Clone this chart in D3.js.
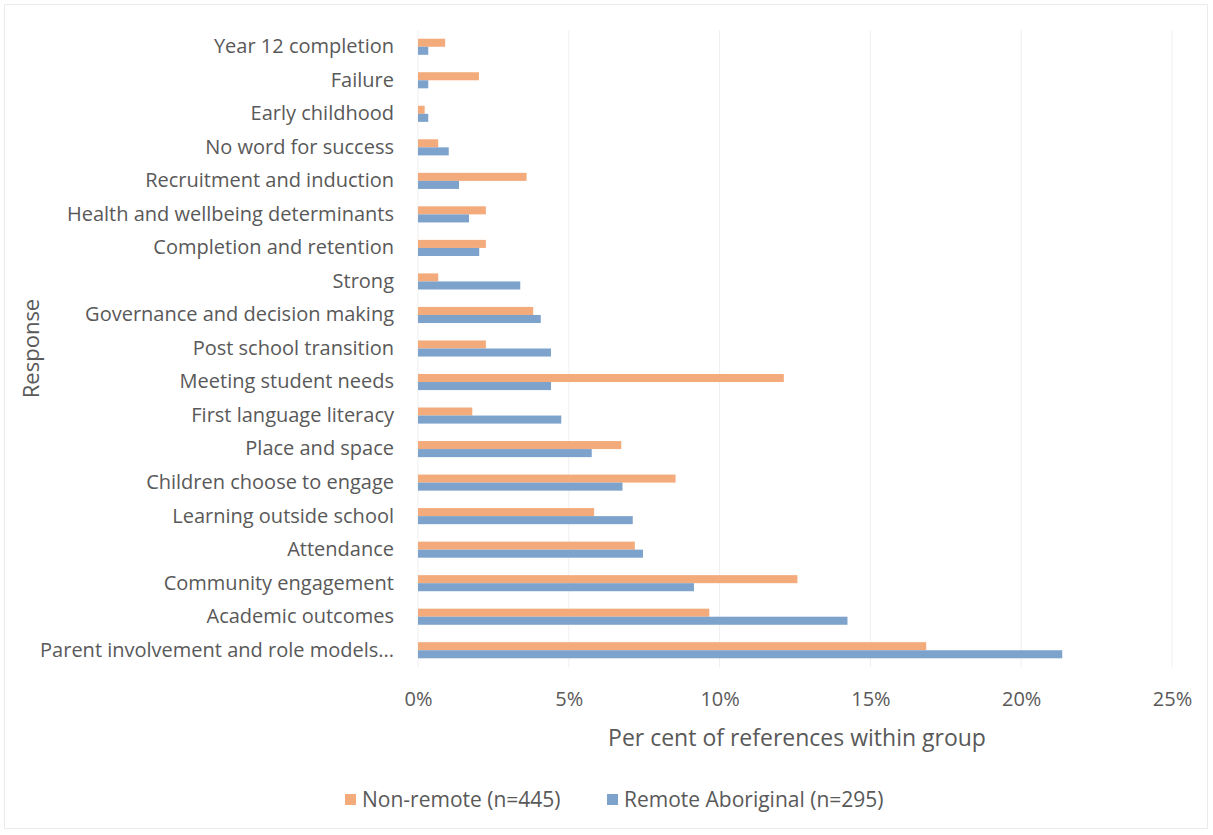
<!DOCTYPE html>
<html lang="en">
<head>
    <meta charset="UTF-8">
    <title>Per cent of references within group</title>
    <script src="https://d3js.org/d3.v7.min.js"></script>
    <style>
        body { margin: 0; background: #fff; }
        text { font-family: "Open Sans", "Liberation Sans", sans-serif; fill: #595959; }
        .axis-label { font-size: 20px; }
    </style>
</head>
<body>
    <svg width="1213" height="835"></svg>
    <script>
        // Categories, top to bottom
        const categories = [
            "Year 12 completion", "Failure", "Early childhood", "No word for success",
            "Recruitment and induction", "Health and wellbeing determinants",
            "Completion and retention", "Strong", "Governance and decision making",
            "Post school transition", "Meeting student needs", "First language literacy",
            "Place and space", "Children choose to engage", "Learning outside school",
            "Attendance", "Community engagement", "Academic outcomes",
            "Parent involvement and role models..."
        ];
        // Per cent of references within group
        const nonRemote = [0.90, 2.02, 0.22, 0.67, 3.60, 2.25, 2.25, 0.67, 3.82, 2.25,
                           12.13, 1.80, 6.74, 8.54, 5.84, 7.19, 12.58, 9.66, 16.85];
        const remote = [0.34, 0.34, 0.34, 1.02, 1.36, 1.69, 2.03, 3.39, 4.07, 4.41,
                        4.41, 4.75, 5.76, 6.78, 7.12, 7.46, 9.15, 14.24, 21.36];
        const seriesNames = ["Non-remote (n=445)", "Remote Aboriginal (n=295)"];
        const seriesColors = ["#F3AB7B", "#7DA2CB"];
        const xTicks = [0, 5, 10, 15, 20, 25];

        const svg = d3.select("svg");
        const margin = {top: 30, right: 41, bottom: 168, left: 418};
        const width = 1213 - margin.left - margin.right,
              height = 835 - margin.top - margin.bottom;

        // faint border of the chart area
        svg.append("rect")
            .attr("x", 4.5).attr("y", 4.5)
            .attr("width", 1203).attr("height", 824)
            .attr("fill", "none").attr("stroke", "#ebebeb");

        const g = svg.append("g")
            .attr("transform", `translate(${margin.left},${margin.top})`);

        const x = d3.scaleLinear().domain([0, 25]).range([0, width]);
        const y = d3.scaleBand().domain(categories).range([0, height]).paddingInner(0.52).paddingOuter(0.26);
        const sub = d3.scaleBand().domain([0, 1]).range([0, y.bandwidth()]);

        // gridlines
        g.append("g")
            .selectAll("line")
            .data(xTicks)
            .join("line")
            .attr("x1", d => x(d)).attr("x2", d => x(d))
            .attr("y1", 0).attr("y2", height)
            .attr("stroke", "#efefef").attr("stroke-width", 1);

        // x axis tick labels
        const xAxis = g.append("g")
            .attr("transform", `translate(0,${height})`)
            .call(d3.axisBottom(x).tickValues(xTicks).tickFormat(d => d + "%").tickSize(0).tickPadding(25));
        xAxis.select(".domain").remove();
        xAxis.selectAll("text").attr("class", "axis-label");

        // y axis labels
        const yAxis = g.append("g")
            .call(d3.axisLeft(y).tickSize(0).tickPadding(24));
        yAxis.select(".domain").remove();
        yAxis.selectAll("text").attr("class", "axis-label");

        // bars
        const rows = categories.map((c, i) => ({cat: c, vals: [nonRemote[i], remote[i]]}));
        g.append("g")
            .selectAll("g")
            .data(rows)
            .join("g")
            .attr("transform", d => `translate(0,${y(d.cat)})`)
            .selectAll("rect")
            .data(d => d.vals.map((v, k) => ({v, k})))
            .join("rect")
            .attr("x", x(0))
            .attr("y", d => sub(d.k))
            .attr("width", d => x(d.v) - x(0))
            .attr("height", sub.bandwidth())
            .attr("fill", d => seriesColors[d.k]);

        // axis titles
        svg.append("text")
            .attr("x", margin.left + x(12.5) + 2).attr("y", 746)
            .attr("text-anchor", "middle")
            .style("font-size", "23px")
            .text("Per cent of references within group");

        svg.append("text")
            .attr("transform", `translate(39,${margin.top + height / 2}) rotate(-90)`)
            .attr("text-anchor", "middle")
            .style("font-size", "22px")
            .text("Response");

        // legend
        const legend = svg.append("g").attr("transform", "translate(345,800)");
        const lx = [0, 262];
        seriesNames.forEach((name, i) => {
            const item = legend.append("g").attr("transform", `translate(${lx[i]},0)`);
            item.append("rect").attr("x", 0).attr("y", -6).attr("width", 11).attr("height", 11)
                .attr("fill", seriesColors[i]);
            item.append("text").attr("x", 17).attr("y", 0).attr("dy", "0.35em")
                .style("font-size", "21px").text(name);
        });
    </script>
</body>
</html>
